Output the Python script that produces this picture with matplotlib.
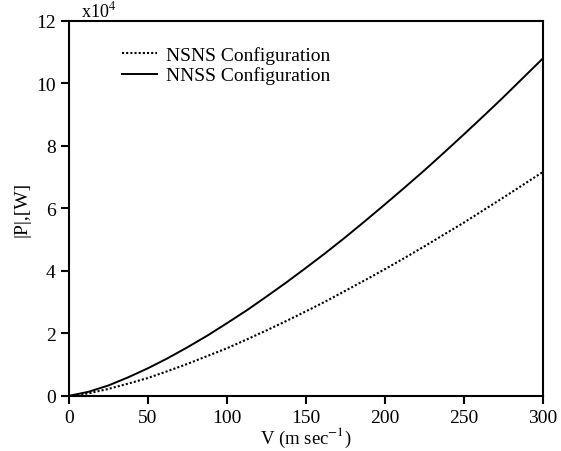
import numpy as np
import matplotlib
matplotlib.use("Agg")
import matplotlib.pyplot as plt

plt.rcParams['font.family'] = ['Liberation Serif', 'DejaVu Serif']
plt.rcParams['mathtext.fontset'] = 'stix'

# velocity (m/s) and |P| in units of 1e4 W
velocity = [0, 12.5, 25, 37.5, 50, 62.5, 75, 87.5, 100, 112.5, 125, 137.5, 150,
            162.5, 175, 187.5, 200, 212.5, 225, 237.5, 250, 262.5, 275, 287.5, 300]
power_nsns = [0, 0.08, 0.22, 0.39, 0.57, 0.79, 1.02, 1.27, 1.52, 1.80, 2.09, 2.39, 2.70,
              3.02, 3.36, 3.70, 4.05, 4.41, 4.78, 5.16, 5.54, 5.94, 6.34, 6.75, 7.16]
power_nnss = [0, 0.13, 0.33, 0.59, 0.88, 1.20, 1.55, 1.92, 2.32, 2.73, 3.17, 3.62, 4.09,
              4.57, 5.07, 5.59, 6.12, 6.66, 7.21, 7.78, 8.36, 8.95, 9.55, 10.17, 10.79]

x_ticks = [0, 50, 100, 150, 200, 250, 300]
y_ticks = [0, 2, 4, 6, 8, 10, 12]

fig = plt.figure(figsize=(5.61, 4.52), dpi=100)
ax = fig.add_axes([0.1225, 0.122, 0.845, 0.830])

ax.plot(velocity, power_nsns, color='black', linestyle=(0, (1, 1)), linewidth=1.5,
        label='NSNS Configuration')
ax.plot(velocity, power_nnss, color='black', linestyle='-', linewidth=1.4,
        label='NNSS Configuration')

ax.set_xlim(0, 300)
ax.set_ylim(0, 12)
ax.set_xticks(x_ticks)
ax.set_yticks(y_ticks)
ax.tick_params(direction='out', length=6, width=1.5, labelsize=14,
               top=False, right=False)
for side in ax.spines.values():
    side.set_linewidth(1.5)

ax.set_xlabel(r'V (m sec$^{-1}$)', fontsize=13.5, labelpad=-1)
ax.set_ylabel('|P|,[W]', fontsize=14, labelpad=4)
ax.text(0.025, 1.0, r'x10$^4$', transform=ax.transAxes, fontsize=13,
        va='bottom', ha='left')

ax.legend(loc='upper left', bbox_to_anchor=(0.075, 0.98), frameon=False,
          fontsize=14, handlelength=1.8, handletextpad=0.5, labelspacing=0.15)

fig.savefig('out.png', dpi=100)
